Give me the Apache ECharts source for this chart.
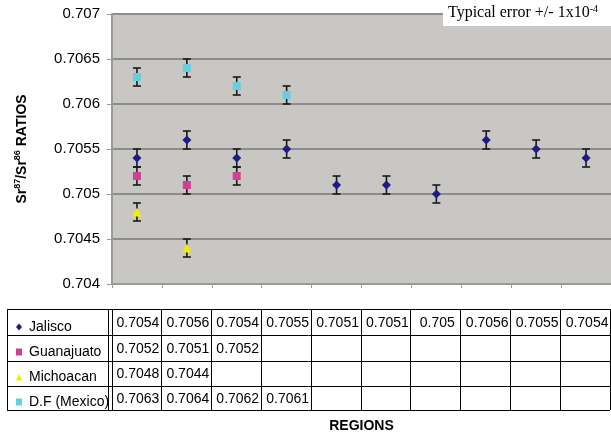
<!DOCTYPE html>
<html>
<head>
<meta charset="utf-8">
<script src="https://cdn.jsdelivr.net/npm/echarts@6/dist/echarts.min.js"></script>
<style>
html,body{margin:0;padding:0;background:#fff;}
#chart{width:611px;height:437px;}
</style>
</head>
<body>
<div id="chart"></div>
<script>
// ---- data ----
const categories = ['1','2','3','4','5','6','7','8','9','10'];
const seriesNames = ['Jalisco', 'Guanajuato', 'Michoacan', 'D.F (Mexico)'];
const jalisco    = [0.7054, 0.7056, 0.7054, 0.7055, 0.7051, 0.7051, 0.7050, 0.7056, 0.7055, 0.7054];
const guanajuato = [0.7052, 0.7051, 0.7052, null, null, null, null, null, null, null];
const michoacan  = [0.7048, 0.7044, null, null, null, null, null, null, null, null];
const dfMexico   = [0.7063, 0.7064, 0.7062, 0.7061, null, null, null, null, null, null];
const tableLabels = [
  ['0.7054','0.7056','0.7054','0.7055','0.7051','0.7051','0.705','0.7056','0.7055','0.7054'],
  ['0.7052','0.7051','0.7052','','','','','','',''],
  ['0.7048','0.7044','','','','','','','',''],
  ['0.7063','0.7064','0.7062','0.7061','','','','','','']
];
const yTicks = [0.704, 0.7045, 0.705, 0.7055, 0.706, 0.7065, 0.707];
const typicalError = 0.0001;

// ---- styles ----
const colors = ['#1f1b86', '#cf3f95', '#f2ee00', '#69cde0'];
const symbols = ['diamond', 'rect', 'triangle', 'rect'];
const symbolSizes = [9, 8, 9, 8];
const allSeries = [jalisco, guanajuato, michoacan, dfMexico];

const W = 611, H = 437;
const gridLeft = 112, gridTop = 14, gridRight = 0, gridBottom = 153;
const colW = (W - gridLeft - gridRight) / categories.length;
const tableTop = 309;
const rowHs = [26, 26, 25, 24];
const tableLeft = 7;

const chart = echarts.init(document.getElementById('chart'), null, {renderer: 'canvas'});

function errRender(params, api) {
  const x = api.value(0), lo = api.value(1), hi = api.value(2);
  const pLo = api.coord([x, lo]);
  const pHi = api.coord([x, hi]);
  const cap = 4;
  const st = {stroke: '#1a1a1a', lineWidth: 1.6};
  return {
    type: 'group',
    children: [
      {type: 'line', shape: {x1: pLo[0], y1: pLo[1], x2: pHi[0], y2: pHi[1]}, style: st},
      {type: 'line', shape: {x1: pLo[0]-cap, y1: pLo[1], x2: pLo[0]+cap, y2: pLo[1]}, style: st},
      {type: 'line', shape: {x1: pHi[0]-cap, y1: pHi[1], x2: pHi[0]+cap, y2: pHi[1]}, style: st}
    ]
  };
}

const series = [];
allSeries.forEach((arr, si) => {
  const errData = [];
  arr.forEach((v, i) => { if (v != null) errData.push([i, v - typicalError, v + typicalError]); });
  series.push({
    type: 'custom',
    name: seriesNames[si] + ' err',
    renderItem: errRender,
    encode: {x: 0, y: [1, 2]},
    data: errData,
    silent: true,
    z: 2
  });
});
allSeries.forEach((arr, si) => {
  series.push({
    type: 'scatter',
    name: seriesNames[si],
    symbol: symbols[si],
    symbolSize: symbolSizes[si],
    itemStyle: {color: colors[si], opacity: 1},
    data: arr.map((v, i) => v == null ? null : [i, v]).filter(d => d),
    z: 3
  });
});

// table graphics
const graphics = [];
const tableRight = W - 1;
const rowYs = [tableTop];
rowHs.forEach(h => rowYs.push(rowYs[rowYs.length - 1] + h));
const lineSt = {stroke: '#000', lineWidth: 1};
rowYs.forEach(y => graphics.push({type: 'line', shape: {x1: tableLeft, y1: y + 0.5, x2: tableRight, y2: y + 0.5}, style: lineSt, silent: true}));
graphics.push({type: 'line', shape: {x1: tableLeft + 0.5, y1: tableTop, x2: tableLeft + 0.5, y2: rowYs[4]}, style: lineSt});
graphics.push({type: 'line', shape: {x1: gridLeft - 3.5, y1: tableTop, x2: gridLeft - 3.5, y2: rowYs[4]}, style: lineSt});
graphics.push({type: 'line', shape: {x1: gridLeft + 0.5, y1: tableTop, x2: gridLeft + 0.5, y2: rowYs[4]}, style: lineSt});
for (let c = 1; c <= categories.length; c++) {
  const x = Math.round(gridLeft + c * colW) - 0.5;
  graphics.push({type: 'line', shape: {x1: x, y1: tableTop, x2: x, y2: rowYs[4]}, style: lineSt});
}
tableLabels.forEach((row, r) => {
  row.forEach((txt, c) => {
    if (!txt) return;
    graphics.push({
      type: 'text',
      x: gridLeft + c * colW + colW / 2 + 1,
      y: rowYs[r] + rowHs[r] / 2 + 1,
      style: {text: txt, font: '14px "Liberation Sans", Arial, sans-serif', fill: '#000', align: 'center', verticalAlign: 'middle'}
    });
  });
});
// annotation box
graphics.push({type: 'rect', shape: {x: 443, y: 0, width: 168, height: 26}, style: {fill: '#fff'}, z: 10});
graphics.push({
  type: 'text', x: 448, y: 13, z: 11,
  style: {
    rich: {
      n: {font: '16px "Liberation Serif", "Times New Roman", serif', fill: '#000'},
      s: {font: '10px "Liberation Serif", "Times New Roman", serif', fill: '#000', padding: [0, 0, 8, 0]}
    },
    text: '{n|Typical error +/- 1x10}{s|-4}',
    verticalAlign: 'middle'
  }
});

chart.setOption({
  animation: false,
  backgroundColor: '#fff',
  grid: {left: gridLeft, right: gridRight, top: gridTop, bottom: gridBottom, show: true, backgroundColor: '#c9c7c4', borderWidth: 0, containLabel: false, outerBoundsMode: 'none'},
  legend: {
    orient: 'vertical',
    left: 11,
    top: tableTop + 5,
    itemWidth: 6,
    itemHeight: 7,
    itemGap: 9,
    data: seriesNames.map((n, i) => ({name: n, icon: symbols[i]})),
    textStyle: {fontFamily: '"Liberation Sans", Arial, sans-serif', fontSize: 14, color: '#000', lineHeight: 16, padding: [0, 0, 0, 2]},
    selectedMode: false
  },
  xAxis: {
    type: 'category',
    data: categories,
    boundaryGap: true,
    name: 'REGIONS',
    nameLocation: 'middle',
    nameGap: 135,
    nameTextStyle: {fontFamily: '"Liberation Sans", Arial, sans-serif', fontWeight: 'bold', fontSize: 14, color: '#000'},
    axisLine: {lineStyle: {color: '#9a9a9a', width: 2}},
    axisTick: {show: true, length: 4, lineStyle: {color: '#9a9a9a'}},
    axisLabel: {show: false},
    splitLine: {show: false}
  },
  yAxis: {
    type: 'value',
    min: 0.704,
    max: 0.707,
    interval: 0.0005,
    name: '{b|Sr}{s|87}{b|/Sr}{s|86}{b| RATIOS}',
    nameLocation: 'middle',
    nameGap: 81,
    nameRotate: 90,
    nameTextStyle: {
      rich: {
        b: {fontFamily: '"Liberation Sans", Arial, sans-serif', fontWeight: 'bold', fontSize: 14, color: '#000', lineHeight: 18},
        s: {fontFamily: '"Liberation Sans", Arial, sans-serif', fontWeight: 'bold', fontSize: 9, color: '#000', padding: [0, 0, 9, 0], lineHeight: 18}
      }
    },
    axisLine: {show: true, lineStyle: {color: '#9a9a9a', width: 2}},
    axisTick: {show: true, length: 5, lineStyle: {color: '#9a9a9a'}},
    axisLabel: {
      fontFamily: '"Liberation Sans", Arial, sans-serif',
      fontSize: 15,
      color: '#000',
      margin: 12,
      formatter: v => {
        const t = yTicks.find(k => Math.abs(k - v) < 1e-9);
        return t != null ? String(t) : '';
      }
    },
    splitLine: {show: true, lineStyle: {color: '#8c8c8c', width: 2}}
  },
  graphic: graphics,
  series: series
});
</script>
</body>
</html>
